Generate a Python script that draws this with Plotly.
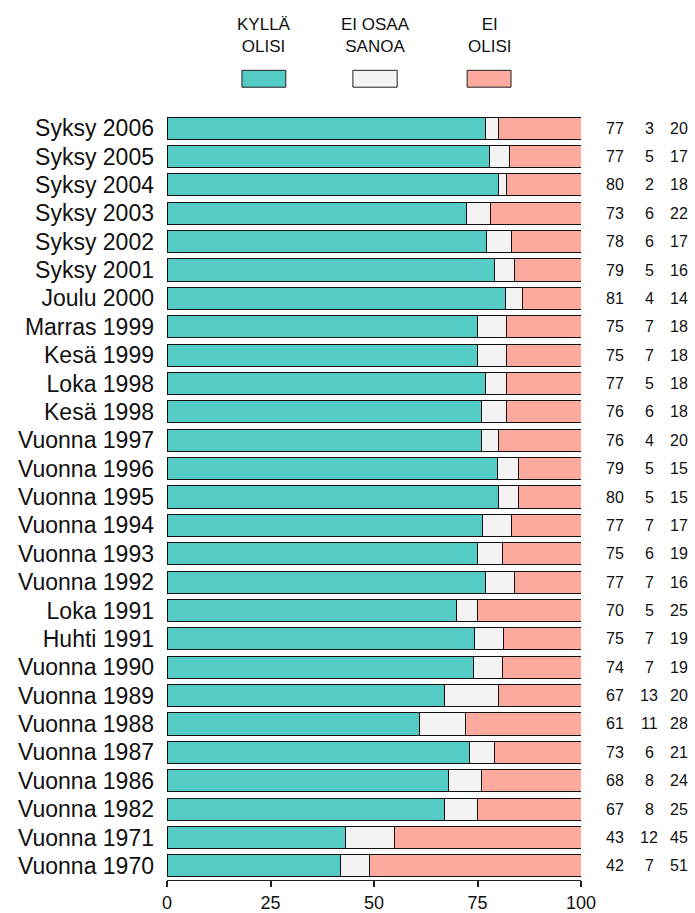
import plotly.graph_objects as go

categories = [
    "Syksy 2006", "Syksy 2005", "Syksy 2004", "Syksy 2003", "Syksy 2002",
    "Syksy 2001", "Joulu 2000", "Marras 1999", "Kesä 1999", "Loka 1998",
    "Kesä 1998", "Vuonna 1997", "Vuonna 1996", "Vuonna 1995", "Vuonna 1994",
    "Vuonna 1993", "Vuonna 1992", "Loka 1991", "Huhti 1991", "Vuonna 1990",
    "Vuonna 1989", "Vuonna 1988", "Vuonna 1987", "Vuonna 1986", "Vuonna 1982",
    "Vuonna 1971", "Vuonna 1970",
]
kylla = [77, 77, 80, 73, 78, 79, 81, 75, 75, 77, 76, 76, 79, 80, 77, 75, 77,
         70, 75, 74, 67, 61, 73, 68, 67, 43, 42]
eos = [3, 5, 2, 6, 6, 5, 4, 7, 7, 5, 6, 4, 5, 5, 7, 6, 7, 5, 7, 7, 13, 11, 6,
       8, 8, 12, 7]
ei = [20, 17, 18, 22, 17, 16, 14, 18, 18, 18, 18, 20, 15, 15, 17, 19, 16, 25,
      19, 19, 20, 28, 21, 24, 25, 45, 51]
series_names = ["KYLLÄ<br>OLISI", "EI OSAA<br>SANOA", "EI<br>OLISI"]
colors = ["#55CBC6", "#F3F3F3", "#FFAA9E"]
x_ticks = [0, 25, 50, 75, 100]

FONT = "Liberation Sans, Arial, sans-serif"

fig = go.Figure()
for vals, col in zip([kylla, eos, ei], colors):
    fig.add_trace(go.Bar(
        y=categories, x=vals, orientation="h",
        marker=dict(color=col, line=dict(color="#111111", width=1)),
        showlegend=False, hoverinfo="x+y",
    ))

# value columns on the right of the bars
col_x = [1.083, 1.165, 1.237]
for vals, cx in zip([kylla, eos, ei], col_x):
    for cat, v in zip(categories, vals):
        fig.add_annotation(x=cx, y=cat, xref="paper", yref="y", text=str(v),
                           showarrow=False, xanchor="center",
                           font=dict(size=16, color="#111111", family=FONT))

# header legend: label above a colour swatch
legend_x = [(18.1, 28.7), (44.9, 55.6), (72.5, 83.1)]
for name, col, (x0, x1) in zip(series_names, colors, legend_x):
    fig.add_annotation(x=(x0 + x1) / 2, y=1.102, xref="x", yref="paper",
                       text=name, showarrow=False, xanchor="center",
                       yanchor="middle", align="center",
                       font=dict(size=17, color="#111111", family=FONT))
    fig.add_shape(type="rect", xref="x", yref="paper", x0=x0, x1=x1,
                  y0=1.035, y1=1.057, fillcolor=col,
                  line=dict(color="#222222", width=1))

fig.update_layout(
    barmode="stack", barnorm="percent", bargap=0.22,
    width=695, height=913,
    margin=dict(l=167, r=114, t=114, b=33),
    plot_bgcolor="white", paper_bgcolor="white",
    font=dict(family=FONT, color="#111111"),
    xaxis=dict(range=[0, 100], tickvals=x_ticks, ticks="outside", ticklen=6,
               tickcolor="#222222", tickwidth=1.5, showline=True,
               linecolor="#222222", linewidth=1, showgrid=False,
               zeroline=False, tickfont=dict(size=18), ticklabelstandoff=0,
               automargin=False, fixedrange=True),
    yaxis=dict(categoryorder="array", categoryarray=categories,
               tickmode="array", tickvals=categories, ticktext=categories,
               autorange="reversed", showgrid=False, showline=False,
               ticks="", tickfont=dict(size=23), ticklabelstandoff=12,
               fixedrange=True),
)

fig.write_html("out.html")
